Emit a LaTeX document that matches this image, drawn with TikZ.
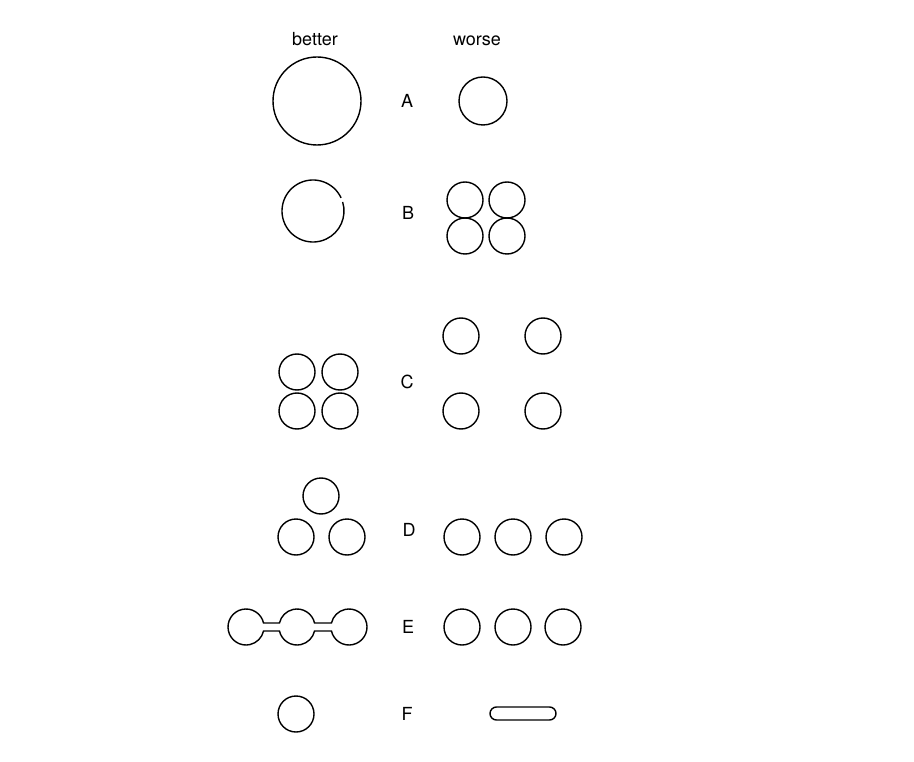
\documentclass[tikz,border=0pt]{standalone}
\usepackage{fontspec}
\setmainfont{TeX Gyre Heros}
\begin{document}
\begin{tikzpicture}[x=0.5pt, y=0.5pt, line width=0.7pt,
    ball/.style={circle, draw, inner sep=0pt, minimum size=#1},
    ball/.default=18pt,
    lab/.style={font=\fontsize{9}{10}\selectfont, text height=1.6ex, text depth=0.3ex}]
    \useasboundingbox (0,0) rectangle (914,761);
    %tikz headings
    \node[lab] at (315,722) (better){better};
    \node[lab] at (477,722) (worse){worse};
    %tikz A
    \node[ball=44pt] at (317,660) (Ab){};
    \node[lab] at (407,660) (A){A};
    \node[ball=24pt] at (483,660) (Aw){};
    %tikz B
    \draw (313,550) ++(25:31) arc[start angle=25, end angle=377, radius=31];
    \node[lab] at (408,548) (B){B};
    \node[ball] at (465,561) (Bw1){};
    \node[ball] at (507,561) (Bw2){};
    \node[ball] at (465,525) (Bw3){};
    \node[ball] at (507,525) (Bw4){};
    %tikz C
    \node[ball] at (297,389) (Cb1){};
    \node[ball] at (340,389) (Cb2){};
    \node[ball] at (297,350) (Cb3){};
    \node[ball] at (340,350) (Cb4){};
    \node[lab] at (407,379) (C){C};
    \node[ball] at (461,425) (Cw1){};
    \node[ball] at (543,425) (Cw2){};
    \node[ball] at (461,350) (Cw3){};
    \node[ball] at (543,350) (Cw4){};
    %tikz D
    \node[ball] at (321,265) (Db1){};
    \node[ball] at (296,224) (Db2){};
    \node[ball] at (347,224) (Db3){};
    \node[lab] at (409,231) (D){D};
    \node[ball] at (462,224) (Dw1){};
    \node[ball] at (513,224) (Dw2){};
    \node[ball] at (564,224) (Dw3){};
    %tikz E
    \draw (263.55,138) arc[start angle=12.84, end angle=347.16, radius=18]
        -- (279.45,130) arc[start angle=192.84, end angle=347.16, radius=18]
        -- (331.45,130) arc[start angle=192.84, end angle=527.16, radius=18]
        -- (314.55,138) arc[start angle=12.84, end angle=167.16, radius=18]
        -- cycle;
    \node[lab] at (408,134) (E){E};
    \node[ball] at (462,134) (Ew1){};
    \node[ball] at (513,134) (Ew2){};
    \node[ball] at (563,134) (Ew3){};
    %tikz F
    \node[ball] at (296,47) (Fb){};
    \node[lab] at (407,47) (F){F};
    \draw[rounded corners=3.25pt] (490,41) rectangle (556,54);
\end{tikzpicture}
\end{document}
